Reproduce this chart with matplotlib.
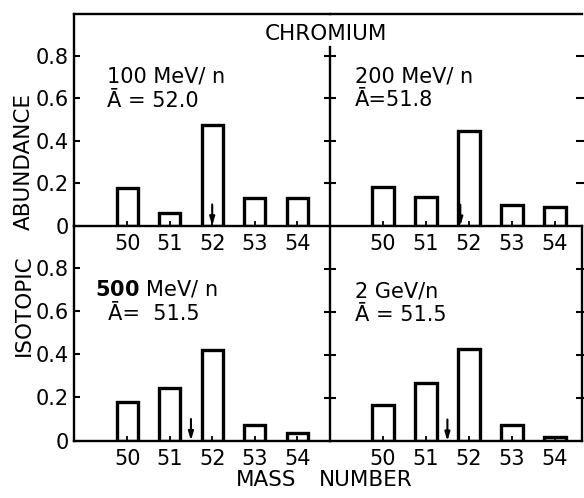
import matplotlib
matplotlib.use("Agg")
import matplotlib.pyplot as plt

# ---------------- data ----------------
masses = [50, 51, 52, 53, 54]
abund_100mev = [0.176, 0.062, 0.474, 0.132, 0.128]
abund_200mev = [0.185, 0.138, 0.447, 0.099, 0.088]
abund_500mev = [0.180, 0.245, 0.423, 0.072, 0.037]
abund_2gev = [0.166, 0.270, 0.428, 0.074, 0.019]
mean_mass = [52.0, 51.8, 51.5, 51.5]
energy_labels = ["100 MeV/ n", "200 MeV/ n", r"$\mathbf{500}$ MeV/ n", "2 GeV/n"]
mean_labels = ["Ā = 52.0", "Ā=51.8", "Ā=  51.5", "Ā = 51.5"]
ytick_vals = [0, 0.2, 0.4, 0.6, 0.8]
ytick_labels = ["0", "0.2", "0.4", "0.6", "0.8"]

W, H = 584, 498
fig = plt.figure(figsize=(W / 100, H / 100), dpi=100)


def rect(x0, y0, x1, y1):
    return [x0 / W, 1 - y1 / H, (x1 - x0) / W, (y1 - y0) / H]


def fpos(x, y):
    return x / W, 1 - y / H


LW_SP = 1.7
LW_BAR = 2.4

ax_tl = fig.add_axes(rect(74, 14, 330, 225.7))
ax_tr = fig.add_axes(rect(330, 14, 582, 226))
ax_bl = fig.add_axes(rect(74, 225.7, 330, 440.5))
ax_br = fig.add_axes(rect(330, 226, 582, 441))

axes = [ax_tl, ax_tr, ax_bl, ax_br]
data = [abund_100mev, abund_200mev, abund_500mev, abund_2gev]

for i, (ax, vals) in enumerate(zip(axes, data)):
    ax.set_facecolor("none")
    left = i % 2 == 0
    top = i < 2
    if left:
        ax.set_xlim(48.75, 54.77)
    else:
        ax.set_xlim(48.77, 54.63)
    if top:
        ax.set_ylim(0, 0.996)
    else:
        ax.set_ylim(0, 0.999)

    ax.bar(masses, vals, width=0.5, facecolor="white", edgecolor="black",
           linewidth=LW_BAR, zorder=1)
    ax.annotate("", xy=(mean_mass[i], 0), xytext=(mean_mass[i], 0.1),
                arrowprops=dict(arrowstyle="-|>,head_length=0.5,head_width=0.15",
                                lw=1.5, color="black", shrinkA=0, shrinkB=0),
                zorder=4)

    for s in ax.spines.values():
        s.set_linewidth(LW_SP)
    ax.spines["right"].set_visible(False)
    if not top:
        ax.spines["top"].set_visible(False)
    if not left:
        if top:
            ax.spines["left"].set_bounds(0, 0.84)
        if not top:
            ax.spines["right"].set_visible(True)

    ax.set_xticks(masses)
    ax.set_xticklabels([str(m) for m in masses])
    ax.tick_params(axis="x", direction="in", length=3.5, width=1.3,
                   labelsize=15, pad=6, top=False)

    if left:
        ax.set_yticks(ytick_vals)
        ax.set_yticklabels(ytick_labels)
        ax.tick_params(axis="y", direction="in", length=4, width=1.5,
                       labelsize=15, pad=4)
    else:
        ax.set_yticks(ytick_vals[1:])
        ax.tick_params(axis="y", direction="inout", length=9, width=1.5,
                       left=True, right=True, labelleft=False)

# panel annotations
label_pos = [(107, 76, 101), (355, 76.5, 100), (95, 289, 314), (355, 291.5, 315)]
mean_x = [107, 355, 108, 355]
for i in range(4):
    x, y1, y2 = label_pos[i]
    fig.text(*fpos(x, y1), energy_labels[i], fontsize=15, ha="left", va="center")
    fig.text(*fpos(mean_x[i], y2), mean_labels[i], fontsize=15, ha="left", va="center")

fig.text(*fpos(326, 34.5), "CHROMIUM", fontsize=15.5, ha="center", va="center")
fig.text(*fpos(24, 161), "ABUNDANCE", fontsize=15.5, rotation=90, ha="center", va="center")
fig.text(*fpos(24, 305.5), "ISOTOPIC", fontsize=15.5, rotation=90, ha="center", va="center")
fig.text(*fpos(266, 479.5), "MASS", fontsize=15.5, ha="center", va="center")
fig.text(*fpos(366, 479.5), "NUMBER", fontsize=15.5, ha="center", va="center")

fig.savefig("out.png", dpi=100)
